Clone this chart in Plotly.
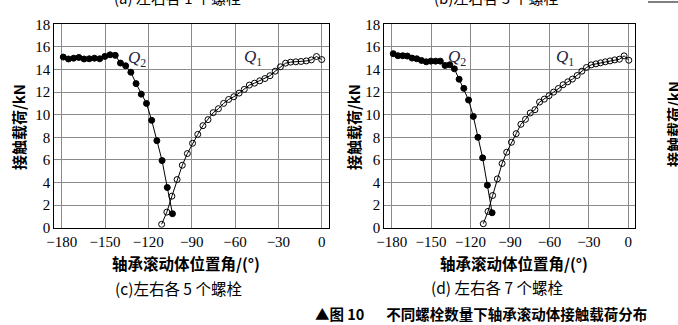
import plotly.graph_objects as go

# ---------------- data ----------------
x_ticks = [-180, -150, -120, -90, -60, -30, 0]
x_ticktext = ["\u2212180", "\u2212150", "\u2212120", "\u221290", "\u221260", "\u221230", "0"]
y_ticks = [0, 2, 4, 6, 8, 10, 12, 14, 16, 18]

# (c) 5 bolts each side
c_q2_ang = [-178.9, -175.3, -171.7, -168.1, -164.5, -160.9, -157.3, -153.7, -150.1, -146.5, -142.9,
            -139.3, -135.7, -132.1, -128.5, -124.9, -121.3, -117.7, -114.1, -110.5, -106.9, -103.3]
c_q2_val = [15.1, 14.93, 15.0, 15.07, 14.93, 14.95, 15.0, 14.95, 15.16, 15.3, 15.25,
            14.57, 14.33, 13.76, 12.75, 11.82, 11.0, 9.5, 7.7, 5.94, 3.56, 1.24]
c_q1_ang = [-110.8, -107.2, -103.7, -100.1, -96.5, -93.0, -89.4, -85.8, -82.2, -78.7, -75.1,
            -71.5, -67.9, -64.4, -60.8, -57.2, -53.6, -50.1, -46.5, -42.9, -39.3, -35.8,
            -32.2, -28.6, -25.0, -21.5, -17.9, -14.3, -10.7, -7.2, -3.6, 0.0]
c_q1_val = [0.3, 1.38, 2.79, 4.26, 5.53, 6.56, 7.47, 8.26, 9.03, 9.56, 10.18,
            10.53, 11.0, 11.35, 11.59, 11.91, 12.24, 12.62, 12.79, 13.0, 13.2, 13.45,
            13.85, 14.24, 14.56, 14.65, 14.68, 14.71, 14.76, 14.85, 15.15, 14.88]

# (d) 7 bolts each side
d_q2_ang = [-178.8, -175.2, -171.6, -168.1, -164.5, -160.9, -157.3, -153.7, -150.2, -146.6, -143.0,
            -139.4, -135.8, -132.3, -128.7, -125.1, -121.5, -117.9, -114.4, -110.8, -107.2, -103.6]
d_q2_val = [15.4, 15.22, 15.22, 15.19, 15.01, 14.95, 14.8, 14.68, 14.74, 14.74, 14.74,
            14.36, 14.42, 14.06, 13.14, 12.33, 11.3, 9.85, 8.0, 6.18, 3.76, 1.32]
d_q1_ang = [-110.3, -106.7, -103.2, -99.6, -96.0, -92.5, -88.9, -85.3, -81.7, -78.2, -74.6,
            -71.0, -67.5, -63.9, -60.3, -56.8, -53.2, -49.6, -46.0, -42.5, -38.9, -35.3,
            -31.8, -28.2, -24.6, -21.1, -17.5, -13.9, -10.3, -6.8, -3.2, 0.4]
d_q1_val = [0.35, 1.44, 2.85, 4.32, 5.68, 6.68, 7.56, 8.32, 9.15, 9.59, 10.15,
            10.44, 11.12, 11.38, 11.68, 12.0, 12.32, 12.65, 12.91, 13.15, 13.47, 13.85,
            14.18, 14.41, 14.5, 14.59, 14.68, 14.76, 14.85, 14.91, 15.21, 14.82]

x_title = "轴承滚动体位置角/(°)"
y_title = "接触载荷/kN"
cap_c = "(c)左右各 5 个螺栓"
cap_d = "(d) 左右各 7 个螺栓"
cap_a = "(a) 左右各 1 个螺栓"
cap_b = "(b)左右各 3 个螺栓"
fig_caption = "▲图 10\u2003\u2002不同螺栓数量下轴承滚动体接触载荷分布"

# ---------------- layout helpers ----------------
W, H = 678, 325


def px(x):
    return x / W


def py(y):
    return 1 - y / H


SERIF = "Liberation Serif"
CJK = "Noto Sans CJK SC"

fig = go.Figure()


def add_series(ang, val, filled, xa, ya):
    fig.add_trace(go.Scatter(
        x=ang, y=val, mode="lines+markers", xaxis=xa, yaxis=ya,
        line=dict(color="black", width=1),
        marker=dict(symbol="circle" if filled else "circle-open",
                    size=6, color="black",
                    line=dict(color="black", width=1)),
        showlegend=False, hoverinfo="skip"))


add_series(c_q2_ang, c_q2_val, True, "x", "y")
add_series(c_q1_ang, c_q1_val, False, "x", "y")
add_series(d_q2_ang, d_q2_val, True, "x2", "y2")
add_series(d_q1_ang, d_q1_val, False, "x2", "y2")

ax_common = dict(showgrid=True, gridcolor="#8a8a8a", gridwidth=1, zeroline=False,
                 showline=True, linecolor="black", linewidth=1, mirror=True,
                 ticks="", automargin=False,
                 tickfont=dict(family=SERIF, size=15, color="black"))

y_dom = [py(227.7), py(24.3)]
fig.update_layout(
    width=W, height=H, margin=dict(l=0, r=0, t=0, b=0, pad=0), autosize=False,
    font=dict(family=SERIF, size=15, color="black"),
    paper_bgcolor="white", plot_bgcolor="white",
    xaxis=dict(domain=[px(54.3), px(329)], range=[-185.1, 5.05], tickvals=x_ticks,
               ticktext=x_ticktext, anchor="y", **ax_common),
    yaxis=dict(domain=y_dom, range=[0, 18], tickvals=y_ticks, anchor="x", **ax_common),
    xaxis2=dict(domain=[px(384.3), px(635)], range=[-185.6, 5.1], tickvals=x_ticks,
                ticktext=x_ticktext, anchor="y2", **ax_common),
    yaxis2=dict(domain=y_dom, range=[0, 18], tickvals=y_ticks, anchor="x2", **ax_common),
)

ann = []


def text(x, y, t, size=14, family=CJK, angle=0, color="black", xanchor="center"):
    ann.append(dict(x=px(x), y=py(y), xref="paper", yref="paper", text=t, showarrow=False,
                    font=dict(family=family, size=size, color=color), textangle=angle,
                    xanchor=xanchor, yanchor="middle"))


# axis titles
text(186, 263, "<b>" + x_title + "</b>", size=15.5)
text(514, 263, "<b>" + x_title + "</b>", size=15.5)
text(18, 127, "<b>" + y_title + "</b>", size=15, angle=-90)
text(353, 127, "<b>" + y_title + "</b>", size=15, angle=-90)
text(673, 124, "<b>" + y_title + "</b>", size=15, angle=-90)
# captions
text(178, 288, cap_c, size=15.5)
text(497, 287, cap_d, size=15.5)
text(177, -3, cap_a, size=15)
text(496, -3, cap_b, size=15)
text(313, 313, "<b>" + fig_caption + "</b>", size=14.5, xanchor="left")

for a in ann:
    fig.add_annotation(**a)

# Q labels in data coordinates
qfont = dict(family=SERIF, size=17, color="#1e2440")
fig.add_annotation(x=-127.9, y=14.9, xref="x", yref="y", text="<i>Q</i><sub>2</sub>",
                   showarrow=False, font=qfont)
fig.add_annotation(x=-47.5, y=15.0, xref="x", yref="y", text="<i>Q</i><sub>1</sub>",
                   showarrow=False, font=qfont)
fig.add_annotation(x=-130.3, y=15.0, xref="x2", yref="y2", text="<i>Q</i><sub>2</sub>",
                   showarrow=False, font=qfont)
fig.add_annotation(x=-48.2, y=15.0, xref="x2", yref="y2", text="<i>Q</i><sub>1</sub>",
                   showarrow=False, font=qfont)

# small rule at top right (cropped page element)
fig.add_shape(type="line", xref="paper", yref="paper", x0=px(648), x1=1.0, y0=py(2), y1=py(2),
              line=dict(color="black", width=1))

fig.write_html("out.html")
